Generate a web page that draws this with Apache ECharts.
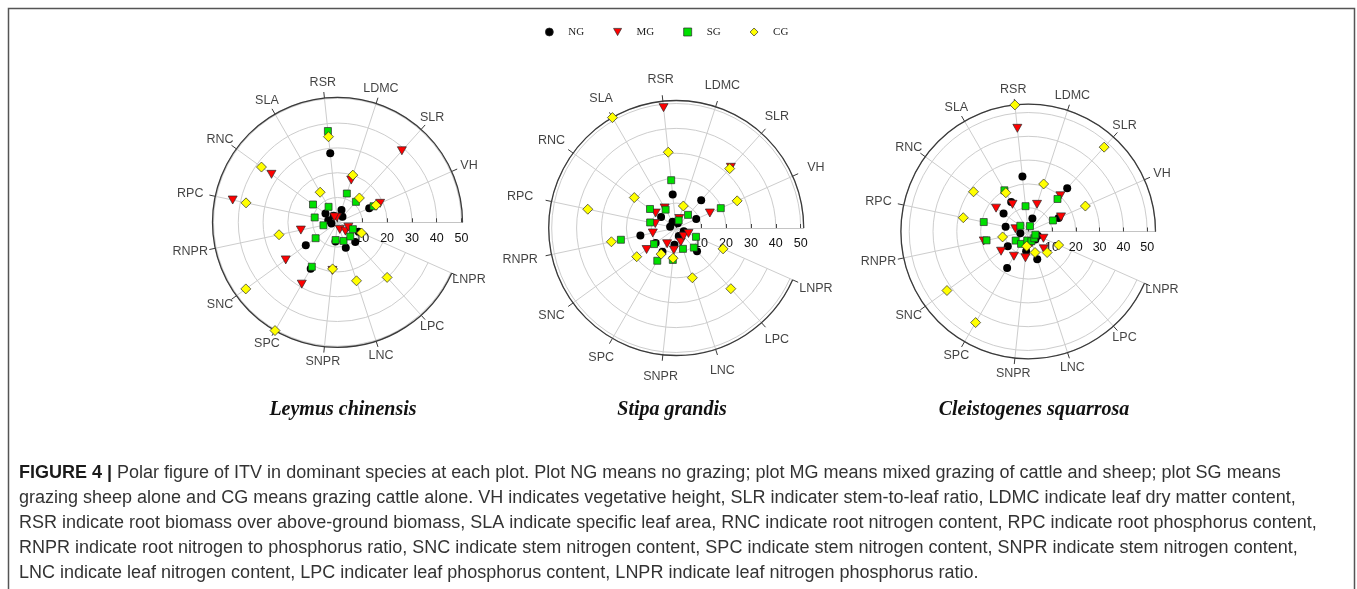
<!DOCTYPE html>
<html>
<head>
<meta charset="utf-8">
<script src="https://cdn.jsdelivr.net/npm/echarts@6/dist/echarts.min.js"></script>
<style>
  html, body { margin: 0; padding: 0; background: #fff; }
  #chart { width: 1357px; height: 589px; }
</style>
</head>
<body>
<div id="chart"></div>
<script>
// Functional traits, placed counter-clockwise from VH
const traits = ['VH', 'SLR', 'LDMC', 'RSR', 'SLA', 'RNC', 'RPC', 'RNPR', 'SNC', 'SPC', 'SNPR', 'LNC', 'LPC', 'LNPR'];
const groups = ['NG', 'MG', 'SG', 'CG'];
const radialTicks = [10, 20, 30, 40, 50];
const speciesNames = ['Leymus chinensis', 'Stipa grandis', 'Cleistogenes squarrosa'];

// ITV values per trait (same order as traits)
const leymusNG = [14.0, 3.0, 5.2, 28.0, 3.1, 6.0, 3.8, 2.5, 15.8, 21.6, 7.8, 10.8, 10.7, 9.3];
const leymusMG = [18.8, 38.8, 17.9, 2.0, 2.5, 32.9, 43.2, 15.1, 25.8, 28.8, 19.5, 3.0, 4.8, 4.8];
const leymusSG = [15.9, 11.1, 12.2, 37.0, 7.2, 12.2, 9.4, 5.8, 10.9, 20.7, 7.2, 7.9, 7.7, 6.8];
const leymusCG = [17.0, 13.2, 20.0, 34.7, 14.0, 37.9, 37.7, 24.1, 45.7, 50.4, 18.9, 24.8, 29.9, 10.6];

const stipaNG = [8.8, 15.0, 2.0, 13.5, 2.9, 7.5, 2.5, 14.7, 10.2, 11.0, 6.8, 3.4, 12.5, 3.3];
const stipaMG = [14.8, 32.8, 4.0, 48.6, 9.3, 10.2, 8.6, 9.6, 14.7, 7.3, 8.9, 5.9, 4.4, 5.4];
const stipaSG = [19.6, 7.1, 3.2, 19.3, 8.5, 13.0, 10.7, 22.7, 11.0, 15.2, 12.9, 8.8, 10.6, 8.7];
const stipaCG = [26.8, 32.1, 9.3, 30.6, 51.2, 20.8, 36.3, 26.6, 19.6, 12.1, 12.2, 21.0, 32.8, 20.6];

const cleistoNG = [14.0, 24.5, 5.7, 23.2, 14.3, 12.8, 9.7, 3.4, 10.6, 17.7, 8.3, 12.3, 4.5, 4.4];
const cleistoMG = [15.1, 20.2, 12.0, 43.6, 13.2, 16.7, 5.5, 19.1, 14.1, 12.0, 11.1, 5.0, 9.8, 7.0];
const cleistoSG = [11.4, 18.4, 2.4, 10.7, 20.0, 4.1, 19.1, 17.9, 6.5, 6.0, 3.8, 4.3, 3.8, 3.3];
const cleistoCG = [26.3, 47.7, 21.0, 53.5, 18.8, 28.4, 27.9, 11.0, 42.2, 44.2, 6.2, 9.3, 11.9, 14.0];

const captionLines = [
  '{b|FIGURE 4 |} Polar figure of ITV in dominant species at each plot. Plot NG means no grazing; plot MG means mixed grazing of cattle and sheep; plot SG means',
  'grazing sheep alone and CG means grazing cattle alone. VH indicates vegetative height, SLR indicater stem-to-leaf ratio, LDMC indicate leaf dry matter content,',
  'RSR indicate root biomass over above-ground biomass, SLA indicate specific leaf area, RNC indicate root nitrogen content, RPC indicate root phosphorus content,',
  'RNPR indicate root nitrogen to phosphorus ratio, SNC indicate stem nitrogen content, SPC indicate stem nitrogen content, SNPR indicate stem nitrogen content,',
  'LNC indicate leaf nitrogen content, LPC indicater leaf phosphorus content, LNPR indicate leaf nitrogen phosphorus ratio.'
];

// Panel layout: each outer ring is at the panel's largest value
const panels = [
  { center: [337.5, 222.3], radius: 125.0, max: 50.4, labelScale: 1.124, titleX: 343, sets: [leymusNG, leymusMG, leymusSG, leymusCG] },
  { center: [676.2, 228.0], radius: 127.5, max: 51.2, labelScale: 1.172, titleX: 672, sets: [stipaNG, stipaMG, stipaSG, stipaCG] },
  { center: [1028.2, 231.5], radius: 127.3, max: 53.5, labelScale: 1.123, titleX: 1034, sets: [cleistoNG, cleistoMG, cleistoSG, cleistoCG] }
];

const markerStyles = {
  NG: { symbol: 'circle', symbolSize: 8, symbolRotate: 0, itemStyle: { color: '#000000', opacity: 1 } },
  MG: { symbol: 'triangle', symbolSize: [9, 8], symbolRotate: 180, itemStyle: { color: '#ff0000', borderColor: '#2a2a2a', borderWidth: 0.7, opacity: 1 } },
  SG: { symbol: 'rect', symbolSize: 7, symbolRotate: 0, itemStyle: { color: '#00e000', borderColor: '#2a2a2a', borderWidth: 0.7, opacity: 1 } },
  CG: { symbol: 'diamond', symbolSize: 10, symbolRotate: 0, itemStyle: { color: '#ffff00', borderColor: '#2a2a2a', borderWidth: 0.7, opacity: 1 } }
};

const angleCategories = [''].concat(traits);
const sansFont = 'Liberation Sans, Arial, sans-serif';
const serifFont = 'Liberation Serif, Times New Roman, serif';
const angleStep = 360 / angleCategories.length;

const polar = panels.map(p => ({ center: p.center, radius: p.radius }));

const angleAxis = panels.map((p, i) => ({
  polarIndex: i,
  type: 'category',
  data: angleCategories,
  boundaryGap: false,
  startAngle: 0,
  clockwise: false,
  axisLine: { show: true, lineStyle: { color: '#3a3a3a', width: 1.3 } },
  axisTick: { show: true, length: 6, interval: (idx) => idx !== 0, lineStyle: { color: '#3a3a3a', width: 1 } },
  axisLabel: { show: false },
  splitLine: { show: true, interval: 0, lineStyle: { color: '#cdcdcd', width: 1 } }
}));

const radiusAxis = panels.map((p, i) => ({
  polarIndex: i,
  type: 'value',
  min: 0,
  max: p.max,
  interval: 10,
  axisLine: { show: true, lineStyle: { color: '#c4c4c4', width: 1 } },
  axisTick: { show: true, inside: true, length: 4, lineStyle: { color: '#444' } },
  axisLabel: {
    show: true,
    margin: -16,
    verticalAlign: 'middle',
    fontFamily: sansFont,
    fontSize: 12.5,
    color: '#111',
    formatter: v => (radialTicks.indexOf(v) >= 0 ? String(v) : '')
  },
  splitLine: { show: true, lineStyle: { color: '#cdcdcd', width: 1 } }
}));

// horizontal nudge so side labels clear the rim like the wider text needs
function labelNudge(k) {
  const c = Math.cos((k + 1) * angleStep * Math.PI / 180);
  const c5 = Math.pow(Math.abs(c), 5);
  return c < 0 ? -11 * c5 : 5 * c5;
}

const series = [];
panels.forEach((p, i) => {
  // trait names around the rim
  series.push({
    type: 'scatter',
    name: 'trait-labels-' + i,
    coordinateSystem: 'polar',
    polarIndex: i,
    silent: true,
    clip: false,
    z: 1,
    symbolSize: 1,
    itemStyle: { color: 'rgba(0,0,0,0)' },
    label: {
      show: true,
      position: 'inside',
      formatter: d => d.name,
      fontFamily: sansFont,
      fontSize: 12.5,
      color: '#111'
    },
    data: traits.map((t, k) => ({
      name: t,
      value: [p.max * p.labelScale, k + 1],
      label: { offset: [labelNudge(k), 0] }
    }))
  });
  groups.forEach((g, gi) => {
    const m = markerStyles[g];
    series.push({
      type: 'scatter',
      name: g,
      coordinateSystem: 'polar',
      polarIndex: i,
      z: 3 + gi,
      symbol: m.symbol,
      symbolSize: m.symbolSize,
      symbolRotate: m.symbolRotate,
      itemStyle: m.itemStyle,
      emphasis: { disabled: true },
      data: p.sets[gi].map((v, k) => [v, k + 1])
    });
  });
});

const graphics = [
  { type: 'rect', silent: true, shape: { x: 8.5, y: 8.5, width: 1346, height: 620 },
    style: { fill: 'none', stroke: '#555', lineWidth: 1.5 } }
];
panels.forEach((p, i) => {
  graphics.push({
    type: 'text', silent: true, x: p.titleX, y: 410,
    style: {
      text: speciesNames[i],
      font: 'italic bold 20px ' + serifFont,
      fill: '#111',
      align: 'center', verticalAlign: 'middle',
      textAlign: 'center', textVerticalAlign: 'middle'
    }
  });
});
captionLines.forEach((line, li) => {
  graphics.push({
    type: 'text', silent: true, x: 19, y: 473 + li * 25,
    style: {
      text: line,
      font: '18px ' + sansFont,
      fill: '#333',
      align: 'left', verticalAlign: 'middle',
      textAlign: 'left', textVerticalAlign: 'middle',
      rich: { b: { fontWeight: 'bold', fontSize: 18, fontFamily: sansFont, fill: '#1a1a1a', color: '#1a1a1a' } }
    }
  });
});

const legendIcons = {
  NG: 'circle',
  MG: 'path://M0,0 L10,0 L5,9 Z',
  SG: 'rect',
  CG: 'diamond'
};

const chart = echarts.init(document.getElementById('chart'), null, { renderer: 'canvas' });
chart.setOption({
  animation: false,
  backgroundColor: '#ffffff',
  legend: {
    data: groups.map(g => ({ name: g, icon: legendIcons[g] })),
    left: 540,
    top: 21.5,
    itemWidth: 8,
    itemHeight: 8,
    itemGap: 29,
    selectedMode: false,
    itemStyle: { borderColor: '#2a2a2a', borderWidth: 0.7 },
    textStyle: { fontFamily: serifFont, fontSize: 11, color: '#222', padding: [0, 0, 0, 10] }
  },
  polar: polar,
  angleAxis: angleAxis,
  radiusAxis: radiusAxis,
  series: series,
  graphic: { elements: graphics }
});
</script>
</body>
</html>
